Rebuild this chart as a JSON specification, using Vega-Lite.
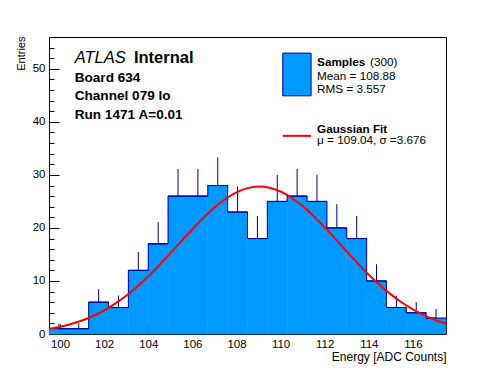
{
  "$schema": "https://vega.github.io/schema/vega-lite/v6.json",
  "width": 397,
  "height": 297,
  "autosize": {"type": "none"},
  "padding": {"left": 49, "top": 37, "right": 50, "bottom": 38},
  "background": "white",
  "config": {
    "view": {"stroke": "black", "strokeWidth": 1},
    "font": "Liberation Sans",
    "axis": {"grid": false, "domain": false, "tickColor": "black", "labelColor": "black", "titleColor": "black", "labelFont": "Liberation Sans", "titleFont": "Liberation Sans", "titleFontWeight": "normal"}
  },
  "datasets": {
    "hist": [
      {"lo": 99.5, "hi": 100.4, "mid": 99.95, "n": 1, "top": 2},
      {"lo": 100.4, "hi": 101.3, "mid": 100.85, "n": 1, "top": 2},
      {"lo": 101.3, "hi": 102.2, "mid": 101.75, "n": 6, "top": 8.449},
      {"lo": 102.2, "hi": 103.1, "mid": 102.65, "n": 5, "top": 7.236},
      {"lo": 103.1, "hi": 104.0, "mid": 103.55, "n": 12, "top": 15.464},
      {"lo": 104.0, "hi": 104.9, "mid": 104.45, "n": 17, "top": 21.123},
      {"lo": 104.9, "hi": 105.8, "mid": 105.35, "n": 26, "top": 31.099},
      {"lo": 105.8, "hi": 106.7, "mid": 106.25, "n": 26, "top": 31.099},
      {"lo": 106.7, "hi": 107.6, "mid": 107.15, "n": 28, "top": 33.292},
      {"lo": 107.6, "hi": 108.5, "mid": 108.05, "n": 23, "top": 27.796},
      {"lo": 108.5, "hi": 109.4, "mid": 108.95, "n": 18, "top": 22.243},
      {"lo": 109.4, "hi": 110.3, "mid": 109.85, "n": 25, "top": 30},
      {"lo": 110.3, "hi": 111.2, "mid": 110.75, "n": 26, "top": 31.099},
      {"lo": 111.2, "hi": 112.1, "mid": 111.65, "n": 25, "top": 30},
      {"lo": 112.1, "hi": 113.0, "mid": 112.55, "n": 20, "top": 24.472},
      {"lo": 113.0, "hi": 113.9, "mid": 113.45, "n": 18, "top": 22.243},
      {"lo": 113.9, "hi": 114.8, "mid": 114.35, "n": 10, "top": 13.162},
      {"lo": 114.8, "hi": 115.7, "mid": 115.25, "n": 5, "top": 7.236},
      {"lo": 115.7, "hi": 116.6, "mid": 116.15, "n": 4, "top": 6},
      {"lo": 116.6, "hi": 117.5, "mid": 117.05, "n": 3, "top": 4.732}
    ],
    "fit": [
      {"x": 99.5, "f": 0.958}, {"x": 100.0, "f": 1.351}, {"x": 100.5, "f": 1.871}, {"x": 101.0, "f": 2.543},
      {"x": 101.5, "f": 3.392}, {"x": 102.0, "f": 4.443}, {"x": 102.5, "f": 5.712}, {"x": 103.0, "f": 7.208},
      {"x": 103.5, "f": 8.929}, {"x": 104.0, "f": 10.861}, {"x": 104.5, "f": 12.966}, {"x": 105.0, "f": 15.198},
      {"x": 105.5, "f": 17.484}, {"x": 106.0, "f": 19.747}, {"x": 106.5, "f": 21.897}, {"x": 107.0, "f": 23.832},
      {"x": 107.5, "f": 25.464}, {"x": 108.0, "f": 26.709}, {"x": 108.5, "f": 27.502}, {"x": 109.0, "f": 27.798},
      {"x": 109.5, "f": 27.583}, {"x": 110.0, "f": 26.868}, {"x": 110.5, "f": 25.692}, {"x": 111.0, "f": 24.116},
      {"x": 111.5, "f": 22.222}, {"x": 112.0, "f": 20.104}, {"x": 112.5, "f": 17.852}, {"x": 113.0, "f": 15.562},
      {"x": 113.5, "f": 13.317}, {"x": 114.0, "f": 11.187}, {"x": 114.5, "f": 9.225}, {"x": 115.0, "f": 7.469},
      {"x": 115.5, "f": 5.936}, {"x": 116.0, "f": 4.631}, {"x": 116.5, "f": 3.547}, {"x": 117.0, "f": 2.666},
      {"x": 117.5, "f": 1.968}
    ]
  },
  "layer": [
    {
      "data": {"name": "hist"},
      "mark": {"type": "rect", "fill": "#0099ff", "stroke": "#0099ff", "strokeWidth": 0.5},
      "encoding": {
        "x": {"field": "lo", "type": "quantitative", "scale": {"domain": [99.5, 117.5], "nice": false, "zero": false},
              "axis": {"orient": "bottom", "values": [100, 102, 104, 106, 108, 110, 112, 114, 116], "tickSize": -10, "labelPadding": 14.5, "labelFontSize": 11.5, "labelFlush": false, "title": "Energy [ADC Counts]", "titleFontSize": 12, "titleAnchor": "end", "titleY": 17, "titleBaseline": "top"}},
        "x2": {"field": "hi"},
        "y": {"field": "n", "type": "quantitative", "scale": {"domain": [0, 56], "nice": false},
              "axis": {"orient": "left", "values": [0, 10, 20, 30, 40, 50], "tickSize": -10, "labelPadding": 14, "labelFontSize": 11.5, "title": "Entries", "titleFont": "Liberation Sans Narrow, Liberation Sans", "titleFontSize": 11, "titleAnchor": "end", "titleX": -25, "titleY": -1, "titleBaseline": "alphabetic"}},
        "y2": {"datum": 0}
      }
    },
    {
      "data": {"name": "hist"},
      "mark": {"type": "rule", "color": "#000099", "strokeWidth": 1},
      "encoding": {
        "x": {"field": "mid", "type": "quantitative", "axis": null},
        "y": {"field": "n", "type": "quantitative", "axis": null},
        "y2": {"field": "top"}
      }
    },
    {
      "data": {"name": "hist"},
      "mark": {"type": "rule", "color": "#000099", "strokeWidth": 1},
      "encoding": {
        "x": {"field": "lo", "type": "quantitative", "axis": null},
        "x2": {"field": "hi"},
        "y": {"field": "n", "type": "quantitative", "axis": null}
      }
    },
    {
      "data": {"name": "hist"},
      "mark": {"type": "line", "interpolate": "step", "color": "#000099", "strokeWidth": 1},
      "encoding": {
        "x": {"field": "mid", "type": "quantitative", "axis": null},
        "y": {"field": "n", "type": "quantitative", "axis": null}
      }
    },
    {
      "data": {"name": "fit"},
      "mark": {"type": "line", "interpolate": "monotone", "color": "#ff0000", "strokeWidth": 2},
      "encoding": {
        "x": {"field": "x", "type": "quantitative", "axis": null},
        "y": {"field": "f", "type": "quantitative", "axis": null}
      }
    },
    {
      "data": {"values": [{"x": 110.098, "x2": 111.384, "y": 52.96, "y2": 44.91}]},
      "mark": {"type": "rect", "fill": "#0099ff", "stroke": "#000099", "strokeWidth": 1},
      "encoding": {
        "x": {"field": "x", "type": "quantitative", "axis": null},
        "x2": {"field": "x2"},
        "y": {"field": "y", "type": "quantitative", "axis": null},
        "y2": {"field": "y2"}
      }
    },
    {
      "data": {"values": [{"x": 110.098, "x2": 111.384, "y": 37.36}]},
      "mark": {"type": "rule", "color": "#ff0000", "strokeWidth": 2},
      "encoding": {
        "x": {"field": "x", "type": "quantitative", "axis": null},
        "x2": {"field": "x2"},
        "y": {"field": "y", "type": "quantitative", "axis": null}
      }
    },
    {
      "data": {"values": [{"x": 100.664, "y": 51.13, "t": "ATLAS"}]},
      "mark": {"type": "text", "align": "left", "baseline": "alphabetic", "fontSize": 16.5, "fontStyle": "italic", "color": "black"},
      "encoding": {
        "x": {"field": "x", "type": "quantitative", "axis": null},
        "y": {"field": "y", "type": "quantitative", "axis": null},
        "text": {"field": "t"}
      }
    },
    {
      "data": {"values": [{"x": 103.35, "y": 51.13, "t": "Internal"}]},
      "mark": {"type": "text", "align": "left", "baseline": "alphabetic", "fontSize": 16.5, "fontWeight": "bold", "color": "black"},
      "encoding": {
        "x": {"field": "x", "type": "quantitative", "axis": null},
        "y": {"field": "y", "type": "quantitative", "axis": null},
        "text": {"field": "t"}
      }
    },
    {
      "data": {"values": [
        {"x": 100.664, "y": 47.6, "t": "Board 634"},
        {"x": 100.664, "y": 44.15, "t": "Channel 079 lo"},
        {"x": 100.664, "y": 40.51, "t": "Run 1471 A=0.01"}
      ]},
      "mark": {"type": "text", "align": "left", "baseline": "alphabetic", "fontSize": 13.6, "fontWeight": "bold", "color": "black"},
      "encoding": {
        "x": {"field": "x", "type": "quantitative", "axis": null},
        "y": {"field": "y", "type": "quantitative", "axis": null},
        "text": {"field": "t"}
      }
    },
    {
      "data": {"values": [
        {"x": 111.656, "y": 50.62, "t": "Samples"},
        {"x": 111.656, "y": 37.98, "t": "Gaussian Fit"}
      ]},
      "mark": {"type": "text", "align": "left", "baseline": "alphabetic", "fontSize": 11.7, "fontWeight": "bold", "color": "black"},
      "encoding": {
        "x": {"field": "x", "type": "quantitative", "axis": null},
        "y": {"field": "y", "type": "quantitative", "axis": null},
        "text": {"field": "t"}
      }
    },
    {
      "data": {"values": [
        {"x": 114.056, "y": 50.62, "t": "(300)"},
        {"x": 111.656, "y": 47.92, "t": "Mean = 108.88"},
        {"x": 111.656, "y": 45.42, "t": "RMS = 3.557"},
        {"x": 111.656, "y": 35.79, "t": "μ = 109.04, σ =3.676"}
      ]},
      "mark": {"type": "text", "align": "left", "baseline": "alphabetic", "fontSize": 11.7, "color": "black"},
      "encoding": {
        "x": {"field": "x", "type": "quantitative", "axis": null},
        "y": {"field": "y", "type": "quantitative", "axis": null},
        "text": {"field": "t"}
      }
    },
    {
      "data": {"name": "fit"},
      "mark": {"type": "point", "opacity": 0},
      "encoding": {
        "x": {"field": "x", "type": "quantitative",
              "axis": {"orient": "bottom", "values": [100, 100.5, 101, 101.5, 102, 102.5, 103, 103.5, 104, 104.5, 105, 105.5, 106, 106.5, 107, 107.5, 108, 108.5, 109, 109.5, 110, 110.5, 111, 111.5, 112, 112.5, 113, 113.5, 114, 114.5, 115, 115.5, 116, 116.5, 117], "tickSize": -5, "labels": false, "title": null}},
        "y": {"field": "f", "type": "quantitative",
              "axis": {"orient": "left", "values": [2, 4, 6, 8, 12, 14, 16, 18, 22, 24, 26, 28, 32, 34, 36, 38, 42, 44, 46, 48, 52, 54], "tickSize": -5, "labels": false, "title": null}}
      }
    }
  ],
  "resolve": {"axis": {"x": "independent", "y": "independent"}}
}
